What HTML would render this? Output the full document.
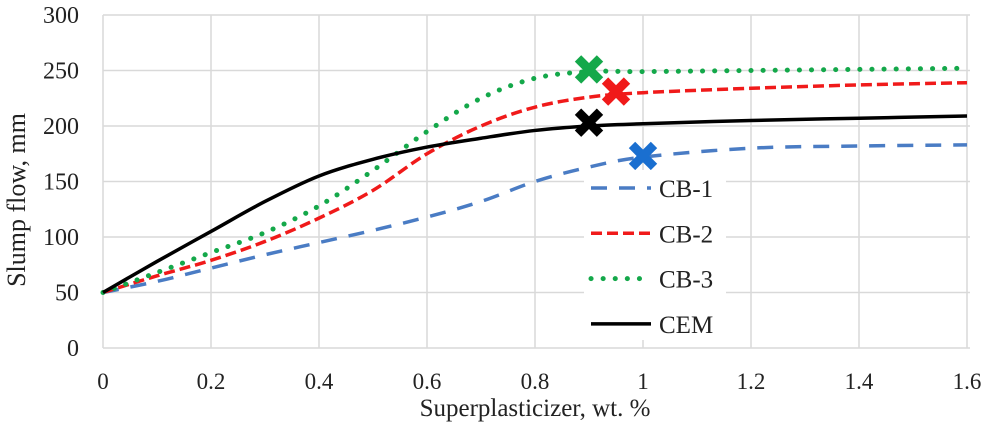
<!DOCTYPE html>
<html><head><meta charset="utf-8"><style>
body{margin:0;background:#fff}
svg text{font-family:"Liberation Serif",serif;fill:#222}
</style></head><body>
<svg id="chart" width="995" height="437" viewBox="0 0 995 437">
<g id="grid"></g>
<g id="series"></g>
<g id="markers"></g>
<g id="axes"></g>
<text x="535" y="416" font-size="25" text-anchor="middle">Superplasticizer, wt. %</text>
<text transform="translate(25,200) rotate(-90)" font-size="26" text-anchor="middle">Slump flow, mm</text>
<g id="legend"></g>
</svg>
<script>
const xVals=[0,0.1,0.2,0.3,0.4,0.5,0.6,0.7,0.8,0.9,1.0,1.2,1.4,1.6];
const cb1=[50,60,72,84,95,106,118,132,150,163,172,180,182,183];
const cb2=[50,65,79,96,117,142,175,200,217,226,230,234,237,239];
const cb3=[50,68,86,104,128,160,195,225,243,249,249,250,251,252];
const cem=[50,78,105,132,155,170,181,189,196,200,202,205,207,209];
const markerX=[1.0,0.95,0.9,0.9];
const markerY=[173,231,251,203];
const xTicks=[0,0.2,0.4,0.6,0.8,1,1.2,1.4,1.6];
const xTickLabels=["0","0.2","0.4","0.6","0.8","1","1.2","1.4","1.6"];
const yTicks=[0,50,100,150,200,250,300];
const NS="http://www.w3.org/2000/svg";
const X0=103,X1=967,Y0=348,Y1=15;
const sx=v=>X0+(v-0)/1.6*(X1-X0);
const sy=v=>Y0-(v/300)*(Y0-Y1);
function mk(tag,attrs,parent){const e=document.createElementNS(NS,tag);for(const k in attrs)e.setAttribute(k,attrs[k]);parent.appendChild(e);return e;}
const grid=document.getElementById('grid'),axes=document.getElementById('axes');
yTicks.forEach(t=>{
  const l=mk('line',{x1:X0,x2:X1+3,y1:sy(t),y2:sy(t),stroke:'#d9d9d9','stroke-width':1.5},grid);
  
  
  const tx=mk('text',{x:79,y:sy(t)+8,'font-size':24,'text-anchor':'end'},axes);
  tx.textContent=t;
  
  
});
xTicks.forEach((t,i)=>{
  const l=mk('line',{x1:sx(t),x2:sx(t),y1:Y1,y2:Y0,stroke:'#d9d9d9','stroke-width':1.5},grid);
  
  
  const tx=mk('text',{x:sx(t),y:389,'font-size':23,'text-anchor':'middle'},axes);
  tx.textContent=xTickLabels[i];
  
  
});
function pathD(ys){
  const p=xVals.map((x,i)=>[sx(x),sy(ys[i])]);
  let d='M'+p[0][0]+','+p[0][1];
  for(let i=0;i<p.length-1;i++){
    const p0=p[Math.max(0,i-1)],p1=p[i],p2=p[i+1],p3=p[Math.min(p.length-1,i+2)];
    const c1=[p1[0]+(p2[0]-p0[0])/6,p1[1]+(p2[1]-p0[1])/6];
    const c2=[p2[0]-(p3[0]-p1[0])/6,p2[1]-(p3[1]-p1[1])/6];
    d+=' C'+c1+' '+c2+' '+p2;
  }
  return d;
}
const ser=document.getElementById('series');
const styles=[
 {ys:cb1,c:'#4a7cc4',w:3.5,da:'16 12',lc:'butt',name:'cb1-line'},
 {ys:cb2,c:'#f01a1a',w:3.5,da:'11 5',lc:'butt',name:'cb2-line'},
 {ys:cb3,c:'#14a84a',w:5,da:'0.1 12',lc:'round',name:'cb3-line'},
 {ys:cem,c:'#000',w:3.5,da:'none',lc:'butt',name:'cem-line'}];
styles.forEach(s=>{
  const p=mk('path',{d:pathD(s.ys),fill:'none',stroke:s.c,'stroke-width':s.w,'stroke-dasharray':s.da,'stroke-linecap':s.lc},ser);
  
  
});
const mg=document.getElementById('markers');
const mcols=['#1a6fd0','#f01a1a','#14a84a','#000'];
markerX.forEach((x,i)=>{
  const cx=sx(x),cy=sy(markerY[i]),r=11;
  const g=mk('g',{stroke:mcols[i],'stroke-width':9,'stroke-linecap':'butt'},mg);
  
  
  mk('line',{x1:cx-r,y1:cy-r,x2:cx+r,y2:cy+r},g);
  mk('line',{x1:cx-r,y1:cy+r,x2:cx+r,y2:cy-r},g);
});
const lg=document.getElementById('legend');
mk('rect',{x:584,y:170,width:142,height:170,fill:'#fff'},lg);
const names=['CB-1','CB-2','CB-3','CEM'];
styles.forEach((s,i)=>{
  const y=188+i*45.3;
  const l=mk('line',{x1:591,x2:651,y1:y,y2:y,stroke:s.c,'stroke-width':s.w,'stroke-dasharray':s.da,'stroke-linecap':s.lc},lg);
  
  
  const t=mk('text',{x:659,y:y+9,'font-size':25},lg);
  t.textContent=names[i];
  
  
});
</script>
</body></html>
